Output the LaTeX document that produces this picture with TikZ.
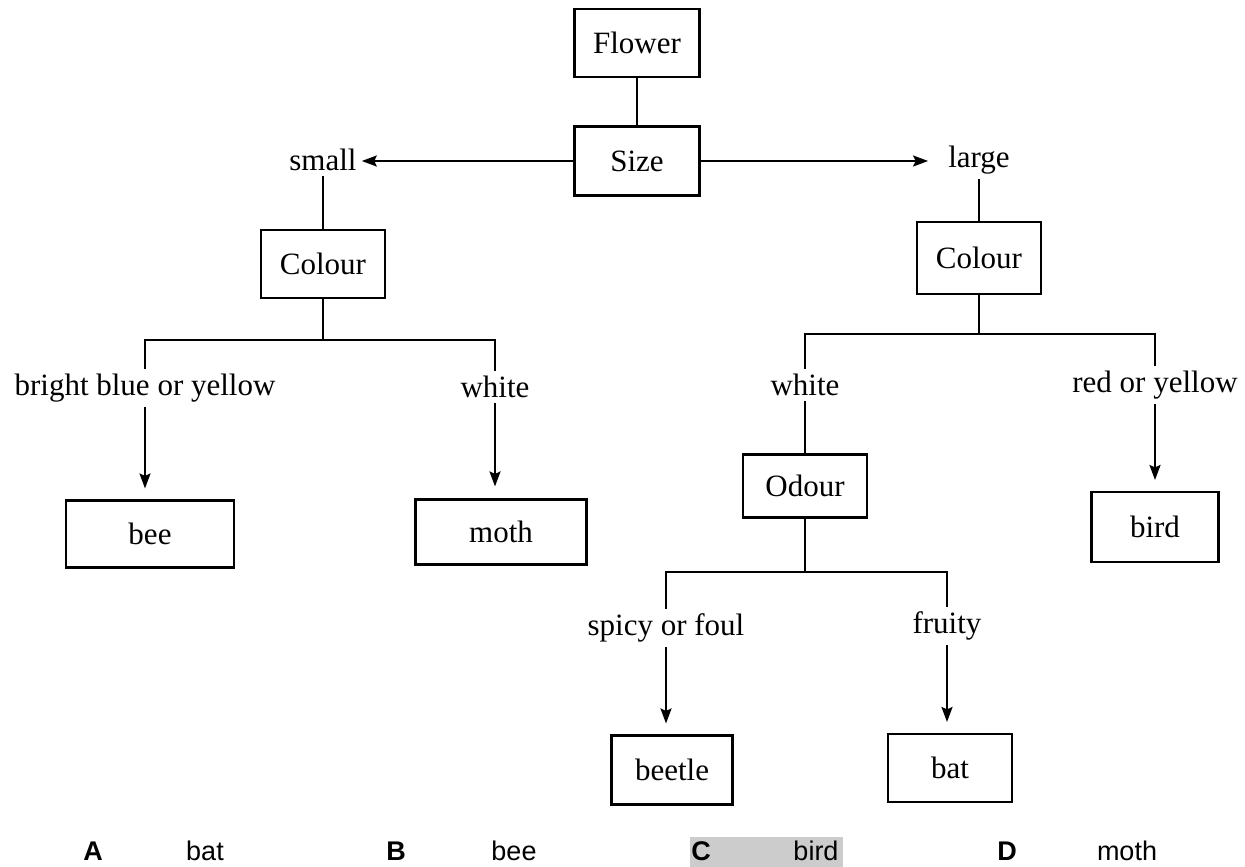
\documentclass[tikz,border=0pt]{standalone}
\usepackage{fontspec}
\setmainfont{Liberation Serif}
\newfontfamily\ansfont{Liberation Sans}
\usetikzlibrary{arrows.meta}
\begin{document}
\begin{tikzpicture}[x=1pt,y=-1pt,
 box/.style={draw, line width=2.1pt, inner sep=0pt, font=\fontsize{31}{36}\selectfont},
 lbl/.style={inner sep=5pt, font=\fontsize{31}{36}\selectfont},
 ln/.style={line width=2.1pt},
 arr/.style={line width=2.1pt, -{Stealth[length=15pt,width=11pt,inset=2.5pt]}},
 ans/.style={font=\ansfont\fontsize{27}{30}\selectfont, anchor=base, inner sep=0pt},
 ansb/.style={font=\ansfont\bfseries\fontsize{27}{30}\selectfont, anchor=base, inner sep=0pt},
]
\useasboundingbox (0,0) rectangle (1245,867);
\fill[white] (0,0) rectangle (1245,867);

% top
\node[box, minimum width=125pt, minimum height=68pt] (flower) at (637,43) {Flower};
\node[box, minimum width=125pt, minimum height=69pt] (size) at (637,161) {Size};
\node[lbl] (small) at (323,160) {small};
\node[lbl] (large) at (979,160) {large};

% left branch
\node[box, minimum width=124pt, minimum height=68pt] (colL) at (323,264) {Colour};
\coordinate (jL) at (323,340);
\node[lbl] (bby) at (145,388) {bright blue or yellow};
\node[lbl] (whL) at (495,387) {white};
\node[box, minimum width=168pt, minimum height=67pt] (bee) at (150,534) {bee};
\node[box, minimum width=171pt, minimum height=65pt] (moth) at (501,532) {moth};

% right branch
\node[box, minimum width=124pt, minimum height=72pt] (colR) at (979,258) {Colour};
\coordinate (jR) at (979,334);
\node[lbl] (whR) at (805,385) {white};
\node[lbl] (roy) at (1155,385) {red or yellow};
\node[box, minimum width=124pt, minimum height=63pt] (odour) at (805,486) {Odour};
\node[box, minimum width=127pt, minimum height=70pt] (bird) at (1155,527) {bird};
\coordinate (jO) at (805,572);
\node[lbl] (spicy) at (666,628) {spicy or foul};
\node[lbl] (fruity) at (947,626) {fruity};
\node[box, minimum width=121pt, minimum height=69pt] (beetle) at (672,770) {beetle};
\node[box, minimum width=124pt, minimum height=68pt] (bat) at (950,768) {bat};

% connectors
\draw[ln] (flower) -- (size);
\draw[arr] (size.west) -- (size.west -| small.east);
\draw[arr, shorten >=15pt] (size.east) -- (size.east -| large.west);
\draw[ln] (small) -- (colL);
\draw[ln] (large) -- (colR);

\draw[ln] (colL.south) -- (jL);
\draw[ln] (bby.north) -- (bby.north |- jL) -- (whL.north |- jL) -- (whL.north);
\draw[arr, shorten >=11pt] (bby.south) -- (bby.south |- bee.north);
\draw[arr, shorten >=12pt] (whL.south) -- (whL.south |- moth.north);

\draw[ln] (colR.south) -- (jR);
\draw[ln] (whR.north) -- (whR.north |- jR) -- (roy.north |- jR) -- (roy.north);
\draw[ln] (whR) -- (odour);
\draw[arr, shorten >=11pt] (roy.south) -- (roy.south |- bird.north);

\draw[ln] (odour.south) -- (jO);
\draw[ln] (spicy.north) -- (spicy.north |- jO) -- (fruity.north |- jO) -- (fruity.north);
\draw[arr, shorten >=11pt] (spicy.south) -- (spicy.south |- beetle.north);
\draw[arr, shorten >=11pt] (fruity.south) -- (fruity.south |- bat.north);

% answer options
\fill[black!20] (690,837) rectangle (843,867);
\node[ansb] (optA) at (93,860) {A};
\node[ans] (ansA) at (205,860) {bat};
\node[ansb] (optB) at (396,860) {B};
\node[ans] (ansB) at (514,860) {bee};
\node[ansb] (optC) at (701,860) {C};
\node[ans] (ansC) at (816,860) {bird};
\node[ansb] (optD) at (1007,860) {D};
\node[ans] (ansD) at (1127,860) {moth};
\end{tikzpicture}
\end{document}
